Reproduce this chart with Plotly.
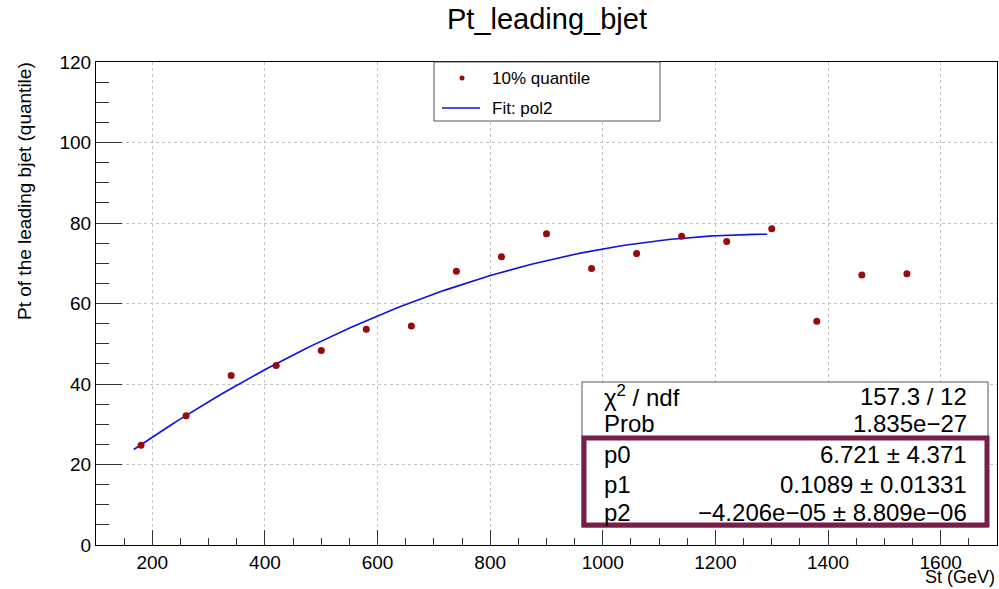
import numpy as np
import plotly.graph_objects as go

# ---- data ----
st_values = [180, 260, 340, 420, 500, 580, 660, 740, 820, 900, 980, 1060, 1140, 1220, 1300, 1380, 1460, 1540]
pt_quantile = [24.8, 32.1, 42.1, 44.6, 48.3, 53.6, 54.4, 68.0, 71.6, 77.3, 68.7, 72.4, 76.7, 75.4, 78.6, 55.6, 67.1, 67.4]
fit_params = [6.721, 0.1089, -4.206e-05]
fit_range = [167, 1292]
stat_labels = ["χ<sup>2</sup> / ndf", "Prob", "p0", "p1", "p2"]
stat_values = ["157.3 / 12", "1.835e−27", "6.721 ± 4.371", "0.1089 ± 0.01331", "−4.206e−05 ± 8.809e−06"]

W, H = 999, 589
L, R, T, B = 96, 2, 62, 44
PW, PH = W - L - R, H - T - B


def px(x):
    return (x - L) / PW


def py(y):
    return (H - B - y) / PH


fx = np.linspace(fit_range[0], fit_range[1], 100)
fy = fit_params[0] + fit_params[1] * fx + fit_params[2] * fx ** 2

FONT = "Liberation Sans, Arial, Helvetica, sans-serif"

fig = go.Figure()
fig.add_trace(go.Scatter(x=fx, y=fy, mode="lines", line=dict(color="#1010e0", width=1.6),
                         showlegend=False, hoverinfo="skip"))
fig.add_trace(go.Scatter(x=st_values, y=pt_quantile, mode="markers",
                         marker=dict(color="#9b0a0a", size=7, line=dict(width=0)),
                         showlegend=False))

axis_common = dict(showline=True, linecolor="black", linewidth=1, mirror=True,
                   ticks="inside", tickcolor="#333", showgrid=True, gridcolor="#c2c2c2",
                   griddash="dot", gridwidth=1, zeroline=False,
                   tickfont=dict(family=FONT, size=19, color="black"))

fig.update_layout(
    width=W, height=H,
    margin=dict(l=L, r=R, t=T, b=B),
    paper_bgcolor="white", plot_bgcolor="white",
    showlegend=False,
    xaxis=dict(range=[100, 1700], dtick=200, tick0=0, ticklen=15,
               minor=dict(dtick=50, tick0=0, ticklen=7, ticks="inside", tickcolor="#333", showgrid=False),
               **axis_common),
    yaxis=dict(range=[0, 120], dtick=20, ticklen=26,
               minor=dict(dtick=5, ticklen=13, ticks="inside", tickcolor="#333", showgrid=False),
               **axis_common),
)

annotations = []
shapes = []

# title
annotations.append(dict(text="Pt_leading_bjet", x=px(547), y=py(19), xref="paper", yref="paper",
                        xanchor="center", yanchor="middle", showarrow=False,
                        font=dict(family=FONT, size=29, color="black")))
# axis titles
annotations.append(dict(text="St (GeV)", x=px(997), y=py(577), xref="paper", yref="paper",
                        xanchor="right", yanchor="middle", showarrow=False,
                        font=dict(family=FONT, size=18, color="black")))
annotations.append(dict(text="Pt of the leading bjet (quantile)", x=px(25), y=py(60), xref="paper",
                        yref="paper", xanchor="center", yanchor="top", textangle=-90, showarrow=False,
                        font=dict(family=FONT, size=19, color="black")))

# legend box
shapes.append(dict(type="rect", xref="paper", yref="paper", x0=px(434), x1=px(660), y0=py(121), y1=py(62),
                   line=dict(color="#555", width=1), fillcolor="white", layer="above"))
shapes.append(dict(type="circle", xref="paper", yref="paper", x0=px(459.5), x1=px(464.5), y0=py(80.5),
                   y1=py(75.5), line=dict(width=0), fillcolor="#9b0a0a", layer="above"))
shapes.append(dict(type="line", xref="paper", yref="paper", x0=px(442), x1=px(480), y0=py(108), y1=py(108),
                   line=dict(color="#1010e0", width=1.6), layer="above"))
annotations.append(dict(text="10% quantile", x=px(490), y=py(78), xref="paper", yref="paper",
                        xanchor="left", yanchor="middle", showarrow=False,
                        font=dict(family=FONT, size=17, color="black")))
annotations.append(dict(text="Fit: pol2", x=px(490), y=py(108), xref="paper", yref="paper",
                        xanchor="left", yanchor="middle", showarrow=False,
                        font=dict(family=FONT, size=17, color="black")))

# stats box
shapes.append(dict(type="rect", xref="paper", yref="paper", x0=px(582), x1=px(988), y0=py(527), y1=py(382),
                   line=dict(color="#555", width=1), fillcolor="white", layer="above"))
shapes.append(dict(type="rect", xref="paper", yref="paper", x0=px(584), x1=px(987), y0=py(525), y1=py(438),
                   line=dict(color="#771f4a", width=5), fillcolor="rgba(0,0,0,0)", layer="above"))
row_y = [396, 424, 454, 484, 512]
for lab, val, yy in zip(stat_labels, stat_values, row_y):
    annotations.append(dict(text=lab, x=px(602), y=py(yy), xref="paper", yref="paper",
                            xanchor="left", yanchor="middle", showarrow=False,
                            font=dict(family=FONT, size=24, color="black")))
    annotations.append(dict(text=val, x=px(969), y=py(yy), xref="paper", yref="paper",
                            xanchor="right", yanchor="middle", showarrow=False,
                            font=dict(family=FONT, size=24, color="black")))

fig.update_layout(annotations=annotations, shapes=shapes)
fig.write_html("out.html")
